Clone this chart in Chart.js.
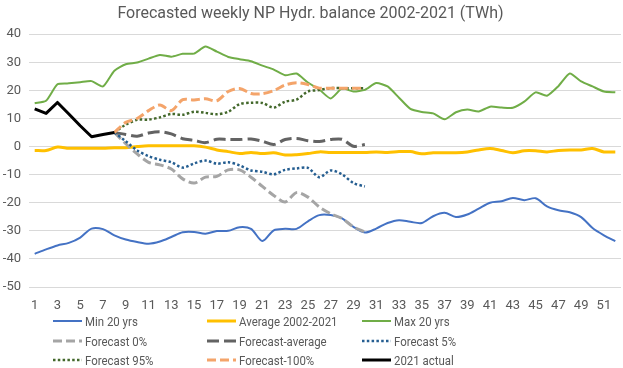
<!DOCTYPE html>
<html>
<head>
<meta charset="utf-8">
<script src="https://cdn.jsdelivr.net/npm/chart.js@4"></script>
<style>
  html, body { margin: 0; padding: 0; background: #fff; }
  #wrap { position: relative; width: 623px; height: 368px; }
  #c { position: absolute; left: 0; top: 0; }
  .lg { position: absolute; height: 16px; display: flex; align-items: center; font-family: Roboto, sans-serif; font-size: 13px; color: #595959; white-space: nowrap; }
  .lg svg { flex: none; }
  .lg span { display: inline-block; transform: scaleX(0.88); transform-origin: left center; margin-left: 3px; }
</style>
</head>
<body>
<div id="wrap">
<canvas id="c" width="623" height="368"></canvas>
</div>
<script>
const weeks = ['1','2','3','4','5','6','7','8','9','10','11','12','13','14','15','16','17','18','19','20','21','22','23','24','25','26','27','28','29','30','31','32','33','34','35','36','37','38','39','40','41','42','43','44','45','46','47','48','49','50','51','52'];
const yTicks = [-50,-40,-30,-20,-10,0,10,20,30,40];

const min20 = [-38.2,-36.6,-35.2,-34.3,-32.4,-29.2,-29.4,-31.6,-33.1,-34.0,
  -34.6,-33.8,-32.2,-30.5,-30.4,-31.0,-30.1,-30.0,-28.7,-29.3,
  -33.6,-29.8,-29.3,-29.3,-26.6,-24.4,-24.4,-25.6,-28.6,-30.6,
  -29.2,-27.2,-26.2,-26.8,-27.2,-24.8,-23.6,-25.1,-24.2,-22.1,
  -20.0,-19.5,-18.3,-19.1,-18.4,-21.3,-22.7,-23.4,-25.1,-29.0,
  -31.6,-33.7];
const avg = [-1.4,-1.4,-0.2,-0.6,-0.6,-0.6,-0.6,-0.4,-0.4,0.0,
  0.3,0.3,0.3,0.3,0.3,-0.2,-1.2,-1.8,-2.5,-2.1,
  -2.5,-2.2,-3.0,-2.9,-2.5,-1.9,-2.1,-2.1,-2.1,-2.1,
  -1.9,-2.1,-1.8,-1.8,-2.6,-2.2,-2.2,-2.2,-1.9,-1.2,
  -0.7,-1.4,-2.2,-1.5,-1.5,-1.9,-1.4,-1.2,-1.2,-0.7,
  -1.9,-1.9];
const max20 = [15.4,16.3,22.2,22.5,22.9,23.3,21.4,27.0,29.3,29.9,
  31.3,32.6,32.0,33.0,33.1,35.6,33.8,31.9,31.1,30.4,
  28.8,27.4,25.4,26.0,22.8,20.3,17.1,20.7,19.6,20.2,
  22.6,21.4,17.4,13.4,12.3,11.8,9.7,12.2,13.2,12.5,
  14.2,13.9,13.8,16.0,19.3,18.1,21.5,26.0,23.2,21.4,
  19.6,19.3];
const N = null;
const pre = [N,N,N,N,N,N,N];
const post = [N,N,N,N,N,N,N,N,N,N,N,N,N,N,N,N,N,N,N,N,N,N];
// weeks 8..30
const f0v   = [5.0,1.0,-2.6,-5.6,-6.5,-8.0,-11.5,-13.0,-10.9,-10.6,-8.3,-8.3,-10.9,-14.2,-17.4,-19.7,-16.4,-18.0,-21.5,-23.9,-25.6,-28.6,-30.4];
const favgv = [5.0,4.3,3.7,4.8,5.3,4.5,2.8,2.2,1.4,2.6,2.5,2.5,2.7,1.9,0.7,2.5,2.9,2.1,1.8,2.5,2.6,0.1,0.7];
const f5v   = [5.0,1.9,-1.4,-3.4,-4.7,-5.6,-7.5,-6.0,-5.0,-6.1,-5.6,-6.7,-8.5,-9.0,-9.9,-8.3,-7.8,-7.6,-10.9,-8.5,-9.9,-13.0,-14.2];
const f95v  = [5.0,7.8,9.5,9.6,10.4,11.6,11.3,12.4,12.0,11.5,12.4,15.1,15.6,15.5,13.9,16.0,16.7,19.6,20.1,20.8,20.8,20.8,20.8];
const f100v = [5.0,8.6,10.0,12.8,14.8,12.8,16.7,16.6,17.0,16.3,19.6,20.7,18.9,18.8,19.9,21.9,22.7,22.1,20.8,20.8,20.8,20.8,20.8];
const actual = [13.4,11.8,15.7,11.6,7.4,3.5,4.3,5.0];

const fc = v => pre.concat(v, post);

const seriesDefs = [
  { label: 'Min 20 yrs', data: min20, color: '#4472C4', width: 2, dash: [], tension: 0.3 },
  { label: 'Average 2002-2021', data: avg, color: '#FFC000', width: 3, dash: [], tension: 0.3 },
  { label: 'Max 20 yrs', data: max20, color: '#70AD47', width: 2, dash: [], tension: 0.2 },
  { label: 'Forecast 0%', data: fc(f0v), color: '#A5A5A5', width: 3, dash: [9,4], tension: 0.3 },
  { label: 'Forecast-average', data: fc(favgv), color: '#636363', width: 3, dash: [12,5], tension: 0.3 },
  { label: 'Forecast 5%', data: fc(f5v), color: '#255E91', width: 2.5, dash: [2.5,2.3], tension: 0.3 },
  { label: 'Forecast 95%', data: fc(f95v), color: '#43682B', width: 2.5, dash: [2.5,2.3], tension: 0.3 },
  { label: 'Forecast-100%', data: fc(f100v), color: '#F4A46A', width: 3, dash: [9,4], tension: 0.3 },
  { label: '2021 actual', data: actual, color: '#000000', width: 3, dash: [], tension: 0 }
];

const datasets = seriesDefs.map((s, i) => ({
  label: s.label,
  data: s.data,
  borderColor: s.color,
  backgroundColor: s.color,
  borderWidth: s.width,
  borderDash: s.dash,
  borderCapStyle: 'butt',
  borderJoinStyle: 'round',
  pointRadius: 0,
  pointHoverRadius: 0,
  tension: s.tension,
  fill: false,
  spanGaps: false,
  order: seriesDefs.length - i
}));

new Chart(document.getElementById('c'), {
  type: 'line',
  data: { labels: weeks, datasets },
  options: {
    responsive: false,
    animation: false,
    devicePixelRatio: 1,
    layout: { padding: { left: 0, right: 2, top: 0, bottom: 52 } },
    plugins: {
      legend: { display: false },
      tooltip: { enabled: false },
      title: {
        display: true,
        text: 'Forecasted weekly NP Hydr. balance 2002-2021 (TWh)',
        color: '#595959',
        font: { family: 'Roboto', size: 16, weight: 'normal' },
        padding: { top: 4, bottom: 11 }
      }
    },
    scales: {
      x: {
        offset: true,
        grid: { display: false },
        border: { display: false },
        afterFit: s => { s.height = 29; },
        ticks: {
          autoSkip: false, maxRotation: 0, minRotation: 0,
          color: '#595959', font: { family: 'Roboto', size: 13 }, padding: 3,
          callback: function(v, i) { return (i % 2 === 0) ? weeks[i] : ''; }
        }
      },
      y: {
        min: yTicks[0], max: yTicks[yTicks.length - 1],
        afterBuildTicks: s => { s.ticks = yTicks.map(v => ({ value: v })); },
        afterFit: s => { s.width = 29; },
        grid: { color: '#D9D9D9', lineWidth: 1, drawTicks: false },
        border: { display: false },
        ticks: { color: '#595959', font: { family: 'Roboto', size: 13 }, padding: 8 }
      }
    }
  }
});

// HTML legend (3 columns x 3 rows)
const colX = [53, 207, 362];
const rowY = [321, 341, 360];
const wrap = document.getElementById('wrap');
seriesDefs.forEach((s, i) => {
  const d = document.createElement('div');
  d.className = 'lg';
  d.style.left = colX[i % 3] + 'px';
  d.style.top = (rowY[Math.floor(i / 3)] - 8) + 'px';
  const dash = s.dash.length ? `stroke-dasharray="${s.dash.join(',')}"` : '';
  d.innerHTML = `<svg width="29" height="6"><line x1="0" y1="3" x2="29" y2="3" stroke="${s.color}" stroke-width="${s.width}" ${dash}/></svg><span>${s.label}</span>`;
  wrap.appendChild(d);
});
</script>
</body>
</html>
